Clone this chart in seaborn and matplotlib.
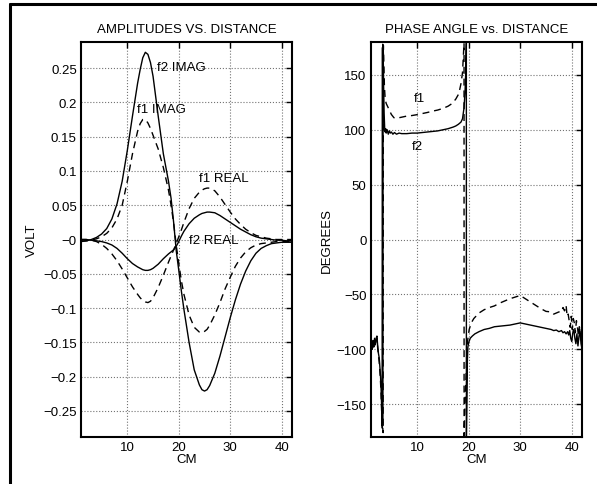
import numpy as np
import pandas as pd
import seaborn as sns
import matplotlib.pyplot as plt
from matplotlib.lines import Line2D
from matplotlib.ticker import FuncFormatter

sns.set_style("white")
plt.rcParams['font.family'] = ['Liberation Sans', 'DejaVu Sans']
plt.rcParams['font.size'] = 9.5
plt.rcParams['text.color'] = 'k'
plt.rcParams['axes.labelcolor'] = 'k'

# amplitude data (CM vs VOLT)
cm = [1, 2, 3, 4, 5, 6, 7, 8, 9, 10, 11, 12, 12.5, 13, 13.5, 14, 14.5, 15, 16, 17,
      18, 18.5, 19, 19.5, 20, 20.5, 21, 22, 23, 24, 24.5, 25, 25.5, 26, 27, 28, 29,
      30, 31, 32, 33, 34, 35, 36, 37, 38, 39, 40, 41, 42]
f2_imag = [-0.003, -0.002, 0.000, 0.003, 0.008, 0.016, 0.030, 0.052, 0.085, 0.130,
           0.180, 0.228, 0.248, 0.265, 0.273, 0.270, 0.258, 0.238, 0.180, 0.125,
           0.085, 0.060, 0.025, -0.016, -0.045, -0.075, -0.102, -0.150, -0.190,
           -0.212, -0.219, -0.221, -0.219, -0.213, -0.195, -0.170, -0.142, -0.114,
           -0.088, -0.065, -0.046, -0.031, -0.020, -0.013, -0.009, -0.006, -0.005,
           -0.004, -0.004, -0.004]
f1_imag = [-0.002, -0.002, -0.001, 0.001, 0.004, 0.009, 0.017, 0.030, 0.050, 0.085,
           0.125, 0.158, 0.169, 0.175, 0.175, 0.170, 0.162, 0.152, 0.132, 0.105,
           0.072, 0.050, 0.024, -0.008, -0.035, -0.060, -0.080, -0.110, -0.128,
           -0.135, -0.136, -0.134, -0.131, -0.125, -0.110, -0.092, -0.072, -0.055,
           -0.039, -0.027, -0.018, -0.012, -0.008, -0.006, -0.005, -0.004, -0.003,
           -0.003, -0.003, -0.003]
f1_real = [0.000, 0.000, -0.001, -0.003, -0.007, -0.013, -0.021, -0.031, -0.043,
           -0.056, -0.069, -0.080, -0.085, -0.089, -0.091, -0.092, -0.090, -0.085,
           -0.070, -0.052, -0.033, -0.024, -0.015, -0.006, 0.004, 0.014, 0.025,
           0.045, 0.060, 0.069, 0.072, 0.074, 0.075, 0.075, 0.071, 0.062, 0.051,
           0.040, 0.030, 0.022, 0.015, 0.010, 0.006, 0.004, 0.002, 0.001, 0.0, 0.0,
           0.0, 0.0]
f2_real = [0.000, 0.000, -0.001, -0.002, -0.003, -0.005, -0.008, -0.013, -0.020,
           -0.028, -0.035, -0.040, -0.042, -0.044, -0.045, -0.045, -0.044, -0.042,
           -0.036, -0.028, -0.021, -0.018, -0.015, -0.010, -0.003, 0.005, 0.012,
           0.023, 0.031, 0.036, 0.038, 0.039, 0.040, 0.040, 0.039, 0.035, 0.030,
           0.025, 0.020, 0.015, 0.011, 0.007, 0.004, 0.002, 0.001, 0.000, -0.001,
           -0.001, -0.002, -0.002]

# phase data (CM vs DEGREES)
cm_p2 = [1.0, 1.15, 1.3, 1.45, 1.6, 1.75, 1.9, 2.05, 2.2, 2.35, 2.5, 2.65, 2.8, 2.9,
         3.0, 3.1, 3.2, 3.25, 3.28, 3.3, 3.33, 3.4, 3.5, 3.6, 3.7, 3.8, 3.9, 4.0,
         4.2, 4.4, 4.6, 4.8, 5.0, 5.3, 5.6, 6.0, 6.5, 7, 8, 9, 10, 11, 12, 13, 14,
         15, 16, 17, 17.5, 18, 18.5, 18.8, 19.1, 19.3, 19.45, 19.55, 19.56, 19.65,
         19.75, 19.85, 20.0, 20.3, 20.7, 21.2, 22, 23, 24, 25, 26, 27, 28, 29, 30,
         31, 32, 33, 34, 35, 36, 36.5, 37, 37.5, 38, 38.3, 38.6, 38.9, 39.2, 39.4,
         39.6, 39.8, 40.0, 40.2, 40.4, 40.6, 40.8, 41.0, 41.2, 41.4, 41.6, 41.8, 42.0]
phase_f2 = [-90, -92, -100, -95, -98, -92, -96, -90, -88, -97, -104, -108, -118, -125,
            -135, -150, -165, -172, 175, -170, 178, 172, 140, 115, 102, 98, 101, 97,
            100, 96, 99, 97, 98, 96, 97.5, 96, 97, 96.5, 96.5, 97, 97, 97.5, 98, 98.5,
            99, 100, 101, 102.5, 103.5, 105, 107, 110, 120, 135, 155, 179, -179, -150,
            -110, -98, -94, -90, -88, -86, -84, -82, -81, -79.5, -79, -78.5, -78, -77,
            -76, -77, -78, -79, -80, -81, -82, -83, -82.5, -84, -83, -85, -84, -86,
            -84, -87, -83, -90, -93, -85, -82, -90, -95, -86, -97, -88, -84, -95, -100]
cm_p1 = [1.0, 1.15, 1.3, 1.45, 1.6, 1.75, 1.9, 2.05, 2.2, 2.35, 2.5, 2.65, 2.8, 2.9,
         3.0, 3.1, 3.2, 3.3, 3.4, 3.45, 3.55, 3.65, 3.8, 4.0, 4.3, 4.6, 5.0, 5.5, 6.0,
         7, 8, 9, 10, 11, 12, 13, 14, 15, 16, 16.8, 17.5, 18.1, 18.5, 18.8, 19.0,
         19.1, 19.11, 19.3, 19.6, 19.8, 20.1, 20.5, 21, 22, 23, 24, 25, 26, 27, 28,
         29, 30, 31, 32, 33, 34, 35, 36, 36.5, 37, 37.5, 38, 38.3, 38.6, 38.9, 39.1,
         39.3, 39.5, 39.7, 39.9, 40.1, 40.3, 40.5, 40.7, 40.9, 41.1, 41.3, 41.5,
         41.7, 41.9, 42.0]
phase_f1 = [-88, -94, -98, -92, -96, -90, -95, -92, -90, -99, -106, -112, -122, -130,
            -140, -155, -162, -170, -176, 177, 160, 140, 128, 124, 121, 118, 114, 111,
            110.5, 111.5, 112.5, 113, 113.8, 114.8, 115.8, 117, 118, 119.5, 121.5,
            124, 128, 133, 142, 152, 170, 179, -179, -150, -110, -92, -82, -76, -72,
            -67, -64, -62, -60.5, -58, -56, -54, -52.5, -51, -54, -57, -60, -63,
            -65.5, -66, -68, -67, -66, -66, -62, -65, -60, -70, -68, -74, -80, -70,
            -82, -72, -76, -85, -74, -80, -88, -78, -92, -80, -86]

amp = pd.DataFrame({'CM': cm, 'f2 IMAG': f2_imag, 'f1 IMAG': f1_imag,
                    'f1 REAL': f1_real, 'f2 REAL': f2_real})
ph2 = pd.DataFrame({'CM': cm_p2, 'DEG': phase_f2})
ph1 = pd.DataFrame({'CM': cm_p1, 'DEG': phase_f1})

dash = (0, (5, 3.5))

fig = plt.figure(figsize=(5.97, 4.85), dpi=100)
ax1 = fig.add_axes([0.1357, 0.0969, 0.3534, 0.8144])
ax2 = fig.add_axes([0.621, 0.0969, 0.354, 0.8144])

for col, ls in [('f2 IMAG', '-'), ('f1 IMAG', dash), ('f1 REAL', dash), ('f2 REAL', '-')]:
    sns.lineplot(data=amp, x='CM', y=col, ax=ax1, color='k', linestyle=ls,
                 linewidth=1.0, estimator=None, sort=False)
sns.lineplot(data=ph1, x='CM', y='DEG', ax=ax2, color='k', linestyle=dash,
             linewidth=1.0, estimator=None, sort=False)
sns.lineplot(data=ph2, x='CM', y='DEG', ax=ax2, color='k', linestyle='-',
             linewidth=1.0, estimator=None, sort=False)

ax1.text(15.8, 0.2515, 'f2 IMAG', va='center')
ax1.text(11.9, 0.190, 'f1 IMAG', va='center')
ax1.text(23.9, 0.0897, 'f1 REAL', va='center')
ax1.text(21.9, 0.0, 'f2 REAL', va='center')
ax2.text(9.4, 128.8, 'f1', va='center')
ax2.text(9.0, 84.8, 'f2', va='center')

fmt = FuncFormatter(lambda v, p: ('%g' % round(v, 6)).replace('-', '\u2212'))

ax1.set_xlim(1, 42)
ax1.set_ylim(-0.288, 0.288)
ax1.set_yticks(np.arange(-0.25, 0.26, 0.05))
ax1.yaxis.set_major_formatter(fmt)
ax1.set_title('AMPLITUDES VS. DISTANCE', fontsize=9.5, pad=7)
ax1.set_ylabel('VOLT', labelpad=4)

ax2.set_xlim(1, 42)
ax2.set_ylim(-180, 180)
ax2.set_yticks([-150, -100, -50, 0, 50, 100, 150])
ax2.yaxis.set_major_formatter(fmt)
ax2.set_title('PHASE ANGLE vs. DISTANCE', fontsize=9.5, pad=7)
ax2.set_ylabel('DEGREES', labelpad=3)

for ax in (ax1, ax2):
    ax.set_xticks([10, 20, 30, 40])
    ax.set_xlabel('CM', labelpad=0)
    ax.grid(True, linestyle=':', color='0.45', linewidth=0.8)
    ax.tick_params(direction='in', length=4, width=1, top=True, right=True,
                   labelsize=9.5, pad=3, colors='k')
    for s in ax.spines.values():
        s.set_color('k')
        s.set_linewidth(1.5)

# scanned page frame, left and top edges
fig.add_artist(Line2D([10 / 597, 10 / 597], [0, 1 - 5 / 485], transform=fig.transFigure,
                      color='k', linewidth=2.2))
fig.add_artist(Line2D([10 / 597, 1], [1 - 5 / 485, 1 - 5 / 485], transform=fig.transFigure,
                      color='k', linewidth=2.2))

fig.savefig('out.png', dpi=100)
